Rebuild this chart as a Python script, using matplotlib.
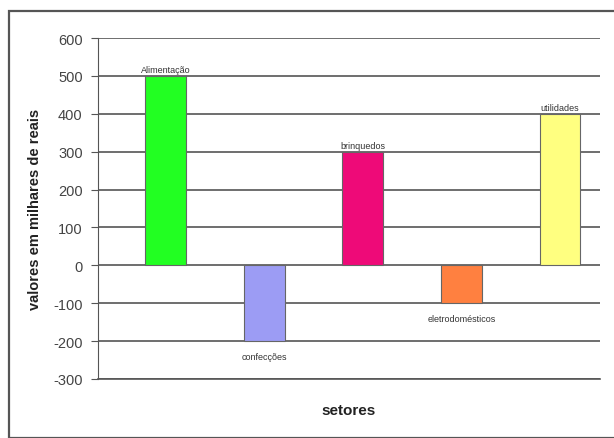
import matplotlib
matplotlib.use('Agg')
from matplotlib import pyplot as plt
from matplotlib.patches import Rectangle

plt.rcParams['font.family'] = ['Liberation Sans', 'DejaVu Sans']
plt.rcParams['axes.unicode_minus'] = False

setores = ['Alimentação', 'confecções', 'brinquedos', 'eletrodomésticos', 'utilidades']
valores = [500, -200, 300, -100, 400]
cores = ['#22ff22', '#9c9cf4', '#ee0a78', '#ff8040', '#ffff80']
yticks = [-300, -200, -100, 0, 100, 200, 300, 400, 500, 600]

fig = plt.figure(figsize=(6.14, 4.39), dpi=100)
# moldura externa do grafico
fig.patches.append(Rectangle((9 / 614, 0), 1.2, 1 - 12 / 439, transform=fig.transFigure,
                             fill=False, edgecolor='#555555', linewidth=1.6))

ax = fig.add_axes([98 / 614, 1 - 380 / 439, 502 / 614, 341 / 439])
x = list(range(len(setores)))
bars = ax.bar(x, valores, width=0.415, color=cores, edgecolor='#666666', linewidth=0.8, zorder=3)

for i, v in enumerate(valores):
    if v >= 0:
        ax.text(i, v + 4, setores[i], ha='center', va='bottom', fontsize=6.5, color='#333333')
    else:
        ax.text(i, v - 28, setores[i], ha='center', va='top', fontsize=6.5, color='#333333')

ax.set_ylim(-300, 600)
ax.set_xlim(-0.685, 4.406)
ax.set_yticks(yticks)
ax.yaxis.grid(True, color='#555555', linewidth=1.2, zorder=0)
ax.set_xticks([])
for s in ['top', 'right']:
    ax.spines[s].set_visible(False)
ax.spines['left'].set_color('#555555')
ax.spines['bottom'].set_color('#555555')
ax.spines['bottom'].set_linewidth(1.2)
ax.tick_params(axis='y', direction='out', length=5, color='#555555', labelsize=10.5,
               labelcolor='#444444', pad=6)
ax.set_ylabel('valores em milhares de reais', fontsize=10.5, fontweight='bold', color='#222222', labelpad=8)
ax.set_xlabel('setores', fontsize=11, fontweight='bold', color='#222222', labelpad=17)

fig.savefig('out.png', dpi=100)
